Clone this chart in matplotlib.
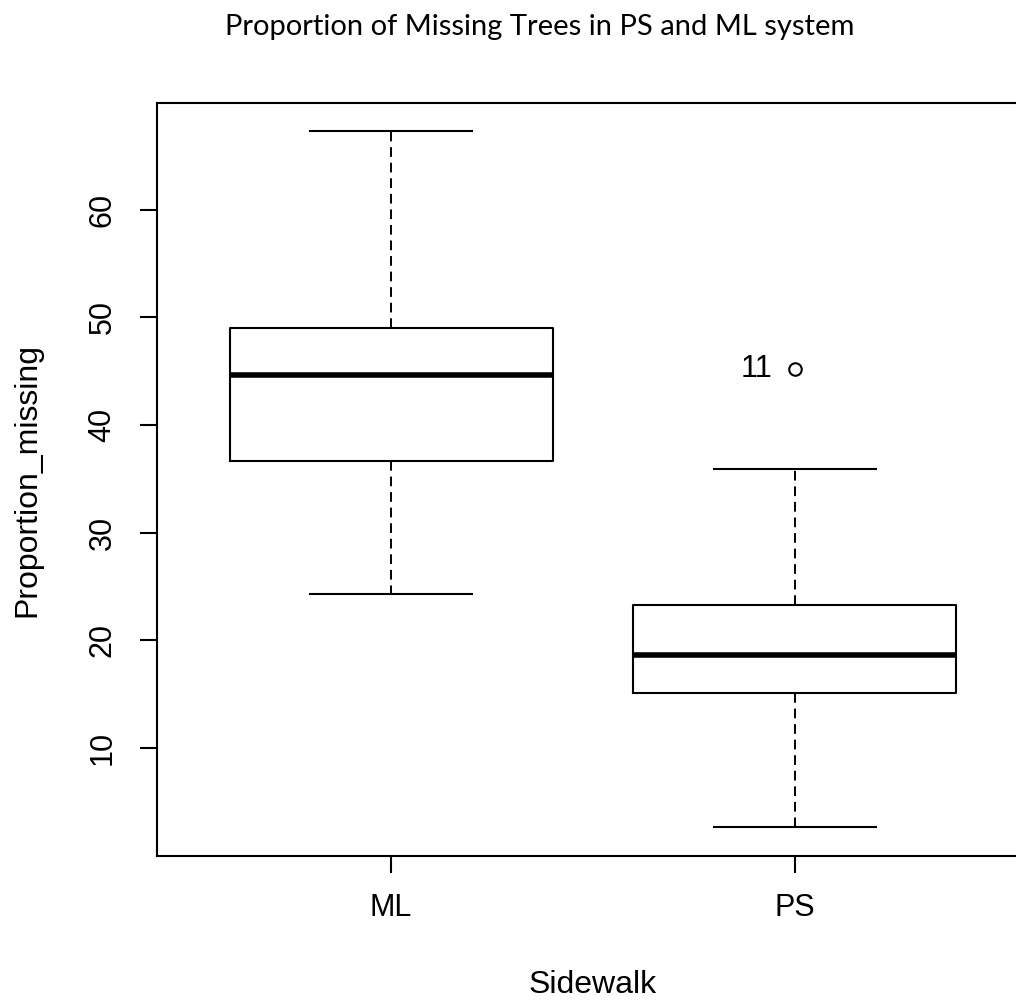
import matplotlib
matplotlib.use("Agg")
import matplotlib.pyplot as plt

categories = ["ML", "PS"]
q1 = [36.6, 15.1]
medians = [44.6, 18.6]
q3 = [49.0, 23.3]
whislo = [24.3, 2.6]
whishi = [67.3, 35.9]
fliers = [[], [45.2]]
flier_labels = [[], ["11"]]
yticks = [10, 20, 30, 40, 50, 60]

fig = plt.figure(figsize=(10.16, 10.06), dpi=100)
ax = fig.add_axes([157/1016, 150/1006, 872/1016, 753/1006])

stats = []
for i, c in enumerate(categories):
    stats.append(dict(label=c, q1=q1[i], med=medians[i], q3=q3[i],
                      whislo=whislo[i], whishi=whishi[i], fliers=fliers[i]))

ax.bxp(stats, positions=[1, 2], widths=0.8, showfliers=True,
       boxprops=dict(color="black", linewidth=1.5),
       medianprops=dict(color="black", linewidth=4.0, solid_capstyle="butt"),
       whiskerprops=dict(color="black", linewidth=1.4, linestyle=(0, (5, 3))),
       capprops=dict(color="black", linewidth=1.5),
       capwidths=0.4,
       flierprops=dict(marker="o", markersize=9, markerfacecolor="white",
                       markeredgecolor="black", markeredgewidth=1.5))

for i in range(len(categories)):
    for v, lab in zip(fliers[i], flier_labels[i]):
        ax.text(i + 1 - 0.055, v, lab, ha="right", va="center",
                fontsize=22, family="Liberation Sans")

ax.set_xlim(0.42, 2.58)
ax.set_ylim(-0.05, 69.9)
ax.set_yticks(yticks)
ax.set_yticklabels([str(t) for t in yticks], rotation=90, va="center",
                   fontsize=22, family="Liberation Sans")
ax.set_xticks([1, 2])
ax.set_xticklabels(categories, fontsize=22, family="Liberation Sans")
ax.tick_params(axis="both", length=12.5, width=1.5, color="black")
ax.tick_params(axis="y", pad=16)
ax.tick_params(axis="x", pad=14)
for s in ax.spines.values():
    s.set_linewidth(1.5)

fig.text(27/1016, (1006 - 480)/1006, "Proportion_missing", rotation=90,
         ha="center", va="center", fontsize=23, family="Liberation Sans")
fig.text(593/1016, (1006 - 985)/1006, "Sidewalk", ha="center", va="center",
         fontsize=23, family="Liberation Sans")
fig.text(540/1016, (1006 - 27)/1006, "Proportion of Missing Trees in PS and ML system",
         ha="center", va="center", fontsize=21, family="Lato")

fig.savefig("out.png", dpi=100)
